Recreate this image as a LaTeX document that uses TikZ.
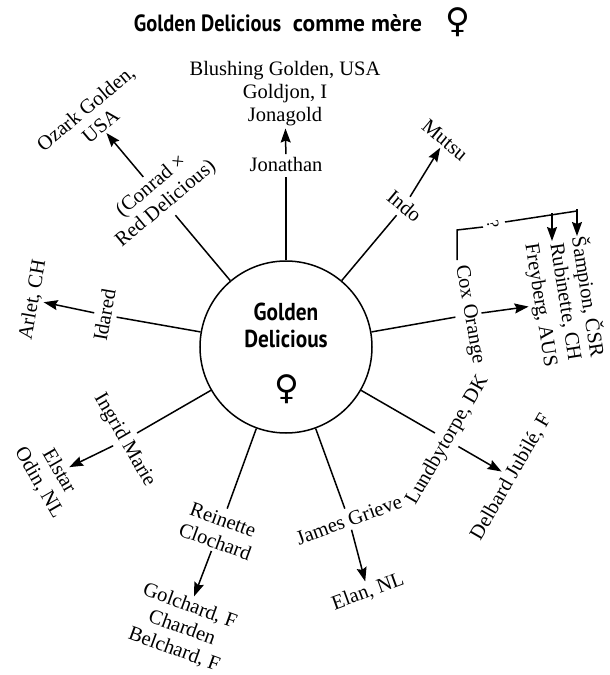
\documentclass[tikz,border=0pt]{standalone}
\usepackage{fontspec}
\setmainfont{Liberation Serif}
\newfontfamily\titlefont[FakeStretch=0.87]{PT Sans}
\newfontfamily\plainsans{PT Sans}
\newfontfamily\symfont{DejaVu Sans}
\usetikzlibrary{arrows.meta}
\begin{document}
\begin{tikzpicture}[x=1pt,y=1pt,
  lbl/.style={font=\fontsize{20.5}{23}\selectfont, inner sep=5pt, align=center},
  sub/.style={font=\fontsize{20.5}{23}\selectfont, inner sep=2pt, align=center},
  spoke/.style={line width=1.5pt},
  arr/.style={line width=1.5pt, shorten <=-2pt, -{Stealth[length=14pt,width=10pt,inset=2pt]}},
  sym/.style={font=\symfont\fontsize{34}{34}\selectfont, inner sep=0pt},
  bold/.style={font=\titlefont\bfseries\fontsize{23.5}{27}\selectfont, inner sep=0pt},
  cbold/.style={font=\titlefont\bfseries\fontsize{24.5}{27}\selectfont, inner sep=0pt}
  ]
\useasboundingbox (-286,-328) rectangle (324,347);
% title
\node[bold, anchor=base] (title) at (-8,315) {Golden Delicious\hspace{0.5em}{\plainsans\bfseries comme mère}};
\node[sym] (titlesym) at (172,325) {♀};
% centre
\node[circle, draw, line width=1.5pt, minimum size=172pt, inner sep=0pt] (gd) at (0,0) {};
\node[cbold, anchor=base] (gdA) at (0,27) {Golden};
\node[cbold, anchor=base] (gdB) at (0,0) {Delicious};
\node[sym] (gdsym) at (1,-42) {♀};
% first ring
\node[lbl, anchor=south] (jonathan) at (90:170) {Jonathan};
\node[lbl, rotate=40, anchor=south] (conrad) at (130:172) {(Conrad ×\\Red Delicious)};
\node[lbl, rotate=-40, anchor=south] (indo) at (50:172) {Indo};
\node[lbl, rotate=-80, anchor=south] (cox) at (10:172) {Cox Orange};
\node[lbl, rotate=80, anchor=south] (idared) at (170:172) {Idared};
\node[lbl, rotate=60, anchor=north] (lundby) at (-30:172) {Lundbytorpe, DK};
\node[lbl, rotate=20, anchor=north] (james) at (-70:172) {James Grieve};
\node[lbl, rotate=-20, anchor=north] (reinette) at (-110:172) {Reinette\\Clochard};
\node[lbl, rotate=-60, anchor=north] (ingrid) at (-150:172) {Ingrid Marie};
% spokes
\foreach \n in {jonathan,conrad,indo,cox,idared}
  \draw[spoke] (gd) -- (\n.south);
\foreach \n in {lundby,james,reinette,ingrid}
  \draw[spoke] (gd) -- (\n.north);
% second ring
\node[sub] (jonagold) at (-1,253) {Blushing Golden, USA\\Goldjon, I\\Jonagold};
\node[sub, rotate=40] (ozark) at (-193,230) {Ozark Golden,\\USA};
\node[sub, rotate=-40] (mutsu) at (159,207) {Mutsu};
\node[sub, rotate=-81] (sampion) at (302,50) {Šampion, ČSR};
\node[sub, rotate=-81] (rubinette) at (279,45) {Rubinette, CH};
\node[sub, rotate=-81] (freyberg) at (254,42) {Freyberg, AUS};
\node[sub, rotate=80] (arlet) at (-253,47) {Arlet, CH};
\node[sub, rotate=-60] (elstar) at (-237,-130) {Elstar\\Odin, NL};
\node[sub, rotate=-20] (golchard) at (-104,-281) {Golchard, F\\Charden\\Belchard, F};
\node[sub, rotate=20] (elan) at (82,-245) {Elan, NL};
\node[sub, rotate=60] (delbard) at (225,-130) {Delbard Jubilé, F};
% arrows
\draw[arr] (jonathan) -- (jonagold);
\draw[arr] (conrad) -- (ozark);
\draw[arr] (indo) -- (mutsu);
\draw[arr] (cox) -- (freyberg);
\draw[arr] (idared) -- (arlet);
\draw[arr] (ingrid) -- (elstar);
\draw[arr] (reinette) -- (golchard);
\draw[arr] (james) -- (elan);
\draw[arr] (lundby) -- (delbard);
% bracket from Cox Orange
\coordinate (b0) at (171,87);
\coordinate (b1) at (171,117);
\coordinate (bq1) at (197,120);
\coordinate (bq2) at (219,125);
\coordinate (br) at (266,132);
\coordinate (b2) at (291,136);
\coordinate (tR) at (266,106);
\coordinate (tS) at (291,111);
\node[font=\fontsize{17}{17}\selectfont, rotate=-80, inner sep=0pt] (q) at (207,123) {?};
\draw[spoke] (b0) -- (b1) -- (bq1);
\draw[spoke] (bq2) -- (b2);
\draw[arr] (b2) -- (tS);
\draw[arr] (br) -- (tR);
\end{tikzpicture}
\end{document}
